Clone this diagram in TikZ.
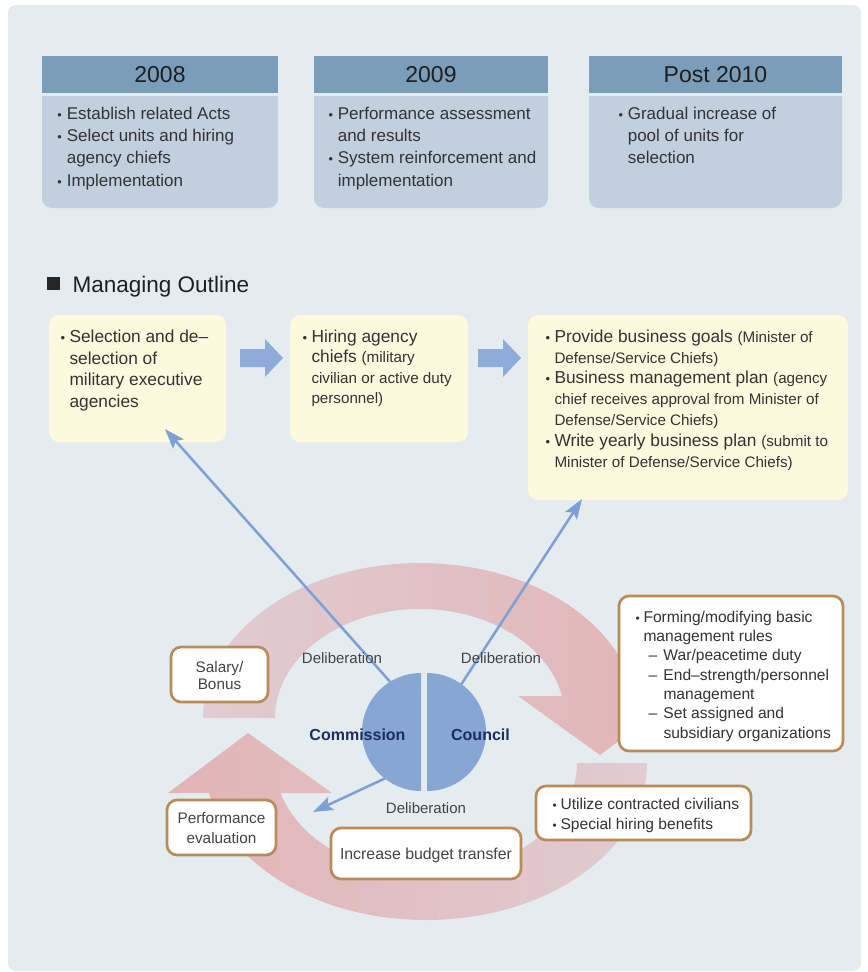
\documentclass[tikz,border=0pt]{standalone}
\usepackage{fontspec}
\setmainfont{Liberation Sans}
\usepackage{graphicx}
\usetikzlibrary{arrows.meta}

\definecolor{panelbg}{RGB}{229,236,240}
\definecolor{hdblue}{RGB}{122,157,185}
\definecolor{bodyblue}{RGB}{193,207,222}
\definecolor{paleyel}{RGB}{253,249,223}
\definecolor{arrblue}{RGB}{141,172,217}
\definecolor{lineblue}{RGB}{125,161,213}
\definecolor{discblue}{RGB}{134,167,211}
\definecolor{brownrim}{RGB}{186,139,88}
\definecolor{pinkhi}{RGB}{226,180,181}
\definecolor{pinklo}{RGB}{224,204,210}
\definecolor{navytxt}{RGB}{27,45,100}
\definecolor{darktxt}{RGB}{51,51,51}
\definecolor{graytxt}{RGB}{68,68,68}

\newcommand{\fsz}[2]{\fontsize{#1}{#2}\selectfont}
\newcommand{\bitem}[1][6.75pt]{\makebox[#1][l]{\scalebox{0.75}{\textbullet}}}
\newcommand{\bsp}[1][6.75pt]{\hspace*{#1}}
\newcommand{\ditem}{\hspace*{9.75pt}\makebox[11.25pt][l]{–}}
\newcommand{\sm}[1]{{\fontsize{11.4}{14}\selectfont #1}}

\tikzset{every picture/.style={line width=0.75pt}}

\begin{document}
\begin{tikzpicture}[x=0.75pt,y=0.75pt,yscale=-1,xscale=1,
  txt/.style={inner sep=0pt},
  ybox/.style={fill=paleyel, rounded corners=7.5pt},
  wbox/.style={draw=brownrim, line width=2pt, fill=white, rounded corners=7.5pt},
  blockarr/.style={fill=arrblue},
  bline/.style={draw=lineblue, line width=1.9pt, -{Stealth[length=15pt, width=10.5pt, inset=3pt]}},
  halfdisc/.style={fill=discblue}]
\useasboundingbox (0,0) rectangle (868,972);
\fill[white] (0,0) rectangle (868,972);

%Shape: Rectangle [panel]
\fill[panelbg, rounded corners=6pt] (8,5) rectangle (861,971);

%Shape: Top boxes (header + body)
\fill[hdblue] (42,56) rectangle (278,93);
\fill[bodyblue] (42,96) -- (278,96) -- (278,198) arc[start angle=0, end angle=90, radius=10] -- (52,208) arc[start angle=90, end angle=180, radius=10] -- cycle;
\fill[hdblue] (314,56) rectangle (548,93);
\fill[bodyblue] (314,96) -- (548,96) -- (548,198) arc[start angle=0, end angle=90, radius=10] -- (324,208) arc[start angle=90, end angle=180, radius=10] -- cycle;
\fill[hdblue] (589,56) rectangle (842,93);
\fill[bodyblue] (589,96) -- (842,96) -- (842,198) arc[start angle=0, end angle=90, radius=10] -- (599,208) arc[start angle=90, end angle=180, radius=10] -- cycle;

%Shape: Square bullet of the title
\fill[black!85] (47,277) rectangle (60,290);

%Shape: Yellow boxes
\fill[ybox] (49,315) rectangle (226,442);
\fill[ybox] (290,315) rectangle (468,442);
\fill[ybox] (528,315) rectangle (848,500);

%Shape: Block arrows
\coordinate (arrA) at (240,358);
\coordinate (arrB) at (478,358);
\fill[blockarr] (arrA) ++(0,-9) -- ++(25,0) -- ++(0,-10) -- ++(18,19) -- ++(-18,19) -- ++(0,-10) -- ++(-25,0) -- cycle;
\fill[blockarr] (arrB) ++(0,-9) -- ++(25,0) -- ++(0,-10) -- ++(18,19) -- ++(-18,19) -- ++(0,-10) -- ++(-25,0) -- cycle;

%Shape: Upper cycle arrow
\shade[left color=pinklo, right color=pinkhi] (203,718) arc[start angle=180, end angle=351.8, x radius=217, y radius=155] -- (679,696) -- (600,755) -- (518,696) -- (562,696) arc[start angle=348.36, end angle=180, x radius=145, y radius=109] -- cycle;
%Shape: Lower cycle arrow
\shade[left color=pinkhi, right color=pinklo] (647,763) arc[start angle=0, end angle=169, x radius=221, y radius=157] -- (168,793) -- (248,733) -- (332,793) -- (280.6,793) arc[start angle=164.32, end angle=0, x radius=151, y radius=111] -- cycle;

%Shape: Split circle
\node[circle, minimum size=90pt, inner sep=0pt] (board) at (424,732) {};
\fill[halfdisc] (421,673) arc[start angle=270, end angle=90, radius=59] -- cycle;
\fill[halfdisc] (427,673) arc[start angle=270, end angle=450, radius=59] -- cycle;

%Straight Lines
\coordinate (tipsel) at (165,429);
\coordinate (tipplan) at (582,499);
\coordinate (tipperf) at (313,812);
\draw[bline] (board.124) -- (tipsel);
\draw[bline] (board.52) -- (tipplan);
\draw[bline] (board.230) -- (tipperf);

%Shape: White boxes
\draw[wbox] (171,647) rectangle (268,702);
\draw[wbox] (167,800) rectangle (276,855);
\draw[wbox] (331,828) rectangle (521,879);
\draw[wbox] (536,786) rectangle (751,840);
\draw[wbox] (619,596) rectangle (843,751);

% Text Node
\node[txt, font=\fsz{17.25}{20}, text=black!88] (hd08) at (160,75) {2008};
% Text Node
\node[txt, font=\fsz{17.25}{20}, text=black!88] (hd09) at (431,75) {2009};
% Text Node
\node[txt, font=\fsz{17.25}{20}, text=black!88] (hd10) at (715.5,75) {Post 2010};
% Text Node
\node[txt, anchor=north west, align=left, font=\fsz{12.75}{16.8}, text=darktxt] (txt08) at (57,106.3) {\bitem[7pt]Establish related Acts\\ \bitem[7pt]Select units and hiring\\ \bsp[7pt]agency chiefs\\ \bitem[7pt]Implementation};
% Text Node
\node[txt, anchor=north west, align=left, font=\fsz{12.75}{16.8}, text=darktxt] (txt09) at (328,106.3) {\bitem[7pt]Performance assessment\\ \bsp[7pt]and results\\ \bitem[7pt]System reinforcement and\\ \bsp[7pt]implementation};
% Text Node
\node[txt, anchor=north west, align=left, font=\fsz{12.75}{16.8}, text=darktxt] (txt10) at (618,106.3) {\bitem[7pt]Gradual increase of\\ \bsp[7pt]pool of units for\\ \bsp[7pt]selection};
% Text Node
\node[txt, anchor=base west, font=\fsz{16.9}{20}, text=black!88] (mgtitle) at (72,292) {Managing Outline};
% Text Node
\node[txt, anchor=north west, align=left, font=\fsz{13}{16.3}, text=darktxt] (seltxt) at (60,329.3) {\bitem Selection and de–\\ \bsp selection of\\ \bsp military executive\\ \bsp agencies};
% Text Node
\node[txt, anchor=north west, align=left, font=\fsz{13}{15.4}, text=darktxt] (hiretxt) at (302,329.3) {\bitem Hiring agency\\ \bsp chiefs \sm{(military}\\ \bsp\sm{civilian or active duty}\\ \bsp\sm{personnel)}};
% Text Node
\node[txt, anchor=north west, align=left, font=\fsz{13}{15.6}, text=darktxt] (plantxt) at (545,329.3) {\bitem Provide business goals \sm{(Minister of}\\ \bsp\sm{Defense/Service Chiefs)}\\ \bitem Business management plan \sm{(agency}\\ \bsp\sm{chief receives approval from Minister of}\\ \bsp\sm{Defense/Service Chiefs)}\\ \bitem Write yearly business plan \sm{(submit to}\\ \bsp\sm{Minister of Defense/Service Chiefs)}};
% Text Node
\node[txt, anchor=north west, align=left, font=\fsz{11.7}{14.5}, text=darktxt] (rulestxt) at (635,610.5) {\bitem[6pt]Forming/modifying basic\\ \bsp[6pt]management rules\\ \ditem War/peacetime duty\\ \ditem End–strength/personnel\\ \bsp[21pt]management\\ \ditem Set assigned and\\ \bsp[21pt]subsidiary organizations};
% Text Node
\node[txt, anchor=north west, align=left, font=\fsz{11.7}{15}, text=darktxt] (contrtxt) at (552,797.8) {\bitem[6pt]Utilize contracted civilians\\ \bitem[6pt]Special hiring benefits};
% Text Node
\node[txt, anchor=base, font=\fsz{11.9}{14}, text=graytxt] (budtxt) at (426,859) {Increase budget transfer};
% Text Node
\node[txt, anchor=north, align=center, font=\fsz{11.5}{13.2}, text=graytxt] (saltxt) at (219.5,660.7) {Salary/\\Bonus};
% Text Node
\node[txt, anchor=north, align=center, font=\fsz{11.5}{15}, text=graytxt] (perftxt) at (221.5,812.3) {Performance\\evaluation};
% Text Node
\node[txt, anchor=base, font=\fsz{11.25}{14}, text=graytxt] (delibL) at (342,663.3) {Deliberation};
% Text Node
\node[txt, anchor=base, font=\fsz{11.25}{14}, text=graytxt] (delibR) at (501,663.3) {Deliberation};
% Text Node
\node[txt, anchor=base, font=\fsz{11.25}{14}, text=graytxt] (delibB) at (426,813.3) {Deliberation};
% Text Node
\node[txt, anchor=base, font=\bfseries\fsz{12}{14}, text=navytxt] (commtxt) at (357.5,740.7) {Commission};
% Text Node
\node[txt, anchor=base, font=\bfseries\fsz{12}{14}, text=navytxt] (counctxt) at (480.5,740.7) {Council};

\end{tikzpicture}
\end{document}
